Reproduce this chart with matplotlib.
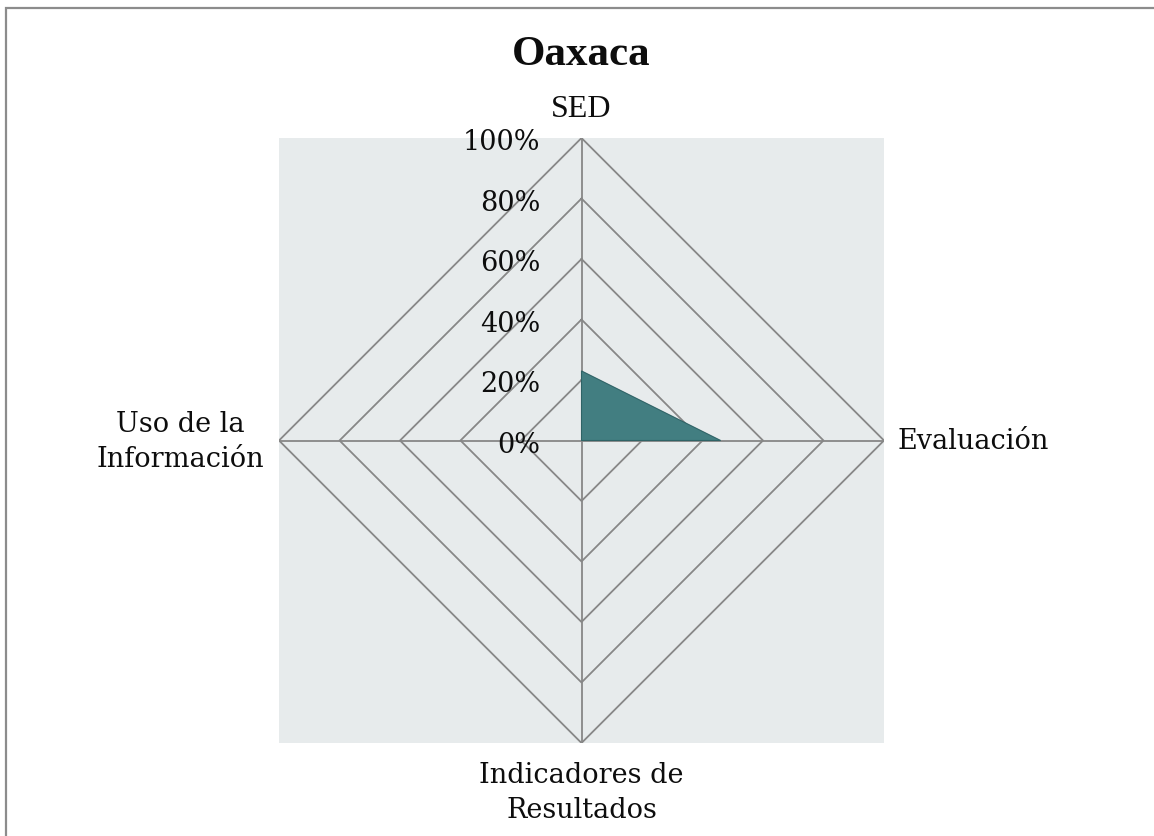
import numpy as np
import matplotlib
matplotlib.use("Agg")
import matplotlib.pyplot as plt
from matplotlib.patches import Rectangle, Polygon

# ---- data ----
categories = ["SED", "Evaluación", "Indicadores de\nResultados", "Uso de la\nInformación"]
values = [0.23, 0.46, 0.0, 0.0]
ring_levels = [0.2, 0.4, 0.6, 0.8, 1.0]
tick_levels = [0.0, 0.2, 0.4, 0.6, 0.8, 1.0]
tick_labels = ["0%", "20%", "40%", "60%", "80%", "100%"]
title = "Oaxaca"

W, H = 1154, 836
fig = plt.figure(figsize=(W / 100, H / 100), dpi=100)
fig.patch.set_facecolor("white")

# plot area (grey square)
ax = fig.add_axes([279 / W, (H - 743) / H, 605 / W, 605 / H])
ax.set_xlim(-1, 1)
ax.set_ylim(-1, 1)
ax.set_facecolor("#e7ebec")
for s in ax.spines.values():
    s.set_visible(False)
ax.set_xticks([])
ax.set_yticks([])

n = len(categories)
# clockwise from top
angles = np.pi / 2 - np.arange(n) * 2 * np.pi / n
cx, cy = np.cos(angles), np.sin(angles)

grid_color = "#878787"
for r in ring_levels:
    xs = np.append(r * cx, r * cx[0])
    ys = np.append(r * cy, r * cy[0])
    ax.plot(xs, ys, color=grid_color, lw=1.3, zorder=2)
for i in range(n):
    ax.plot([0, cx[i]], [0, cy[i]], color=grid_color, lw=1.3, zorder=2)

v = np.array(values)
poly = Polygon(np.column_stack([v * cx, v * cy]), closed=True,
               facecolor="#427e81", edgecolor="#2f6366", lw=0.8, zorder=3)
ax.add_patch(poly)

serif = "DejaVu Serif"
fs = 19.5
txt = "#0d0d0d"
# tick labels
for lv, lab in zip(tick_levels, tick_labels):
    ax.text(-0.137, lv - 0.04, lab, ha="right", va="baseline",
            fontsize=fs, family=serif, color=txt, clip_on=False, zorder=4)

# category labels
ax.text(0, 1.07, "SED", ha="center", va="baseline", fontsize=23,
        family="Liberation Serif", color=txt, clip_on=False)
ax.text(1.046, -0.028, categories[1], ha="left", va="baseline", fontsize=fs,
        family=serif, color=txt, clip_on=False)
l1, l2 = categories[2].split("\n")
ax.text(0, -1.132, l1, ha="center", va="baseline", fontsize=fs,
        family=serif, color=txt, clip_on=False)
ax.text(0, -1.248, l2, ha="center", va="baseline", fontsize=fs,
        family=serif, color=txt, clip_on=False)
l1, l2 = categories[3].split("\n")
ax.text(-1.327, 0.028, l1, ha="center", va="baseline", fontsize=fs,
        family=serif, color=txt, clip_on=False)
ax.text(-1.327, -0.088, l2, ha="center", va="baseline", fontsize=fs,
        family=serif, color=txt, clip_on=False)

# title
fig.text(581 / W, 1 - 65 / H, title, ha="center", va="baseline", fontsize=31,
         fontweight="bold", family="Liberation Serif", color=txt)

# outer border (top and left visible)
fig.patches.append(Rectangle((6 / W, -0.05), 1.1, 1 - 8 / H + 0.05, fill=False,
                             edgecolor="#8c8c8c", lw=1.6, transform=fig.transFigure))

fig.savefig("out.png", dpi=100, facecolor="white")
